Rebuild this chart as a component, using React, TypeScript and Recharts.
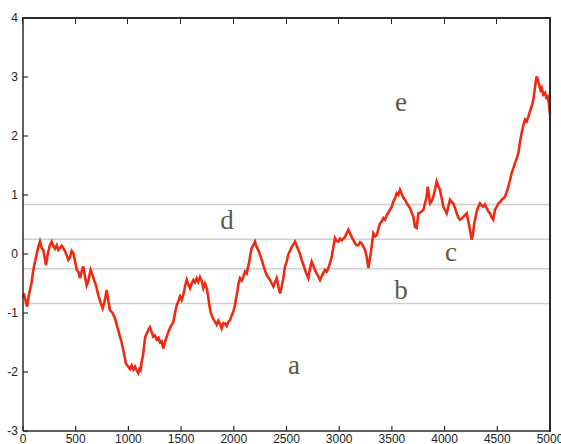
import {
  LineChart,
  Line,
  XAxis,
  YAxis,
  ReferenceLine,
  ReferenceDot,
} from "recharts";

const STEPS = [
  0, 10, 25, 40, 55, 66, 80, 98, 114, 130, 146, 161, 177, 193, 205, 218, 235, 255, 272, 290,
  304, 320, 335, 350, 367, 383, 398, 415, 430, 446, 462, 478, 494, 509, 525, 541, 556, 572, 588, 604,
  620, 642, 658, 674, 695, 715, 735, 756, 775, 794, 810, 825, 850, 873, 897, 920, 936, 952, 965, 977,
  1000, 1015, 1031, 1047, 1063, 1080, 1094, 1105, 1115, 1126, 1140, 1148, 1160, 1174, 1190, 1205, 1220, 1236, 1252, 1268,
  1285, 1300, 1315, 1331, 1345, 1360, 1379, 1395, 1411, 1427, 1442, 1458, 1474, 1490, 1505, 1521, 1537, 1553, 1569, 1585,
  1600, 1616, 1632, 1648, 1663, 1679, 1695, 1711, 1727, 1743, 1755, 1768, 1780, 1790, 1806, 1822, 1838, 1853, 1869, 1885,
  1900, 1917, 1932, 1948, 1964, 1980, 1995, 2011, 2022, 2033, 2045, 2059, 2075, 2090, 2106, 2122, 2135, 2147, 2158, 2169,
  2185, 2201, 2212, 2223, 2236, 2249, 2265, 2280, 2296, 2312, 2328, 2343, 2360, 2375, 2391, 2407, 2423, 2439, 2455, 2470,
  2486, 2502, 2518, 2533, 2550, 2565, 2581, 2597, 2612, 2628, 2644, 2660, 2676, 2692, 2707, 2723, 2739, 2755, 2770, 2786,
  2802, 2818, 2834, 2850, 2865, 2881, 2897, 2913, 2929, 2945, 2960, 2976, 2992, 3008, 3024, 3040, 3055, 3071, 3087, 3103,
  3118, 3134, 3150, 3166, 3182, 3198, 3213, 3230, 3245, 3261, 3277, 3290, 3302, 3313, 3324, 3340, 3356, 3371, 3387, 3403,
  3419, 3435, 3451, 3466, 3482, 3498, 3514, 3530, 3546, 3561, 3577, 3593, 3609, 3625, 3641, 3656, 3672, 3688, 3704, 3719,
  3735, 3751, 3767, 3782, 3799, 3814, 3828, 3840, 3851, 3862, 3878, 3893, 3910, 3925, 3940, 3956, 3972, 3988, 4004, 4020,
  4035, 4051, 4067, 4083, 4099, 4115, 4130, 4146, 4162, 4178, 4194, 4210, 4225, 4241, 4257, 4270, 4282, 4293, 4304, 4320,
  4336, 4351, 4367, 4383, 4399, 4415, 4431, 4446, 4462, 4478, 4494, 4510, 4526, 4542, 4557, 4573, 4589, 4605, 4620, 4636,
  4652, 4668, 4684, 4700, 4715, 4731, 4747, 4763, 4779, 4795, 4810, 4826, 4840, 4851, 4863, 4874, 4885, 4896, 4910, 4921,
  4937, 4953, 4965, 4978, 4990, 5000,
];

const VALUES = [
  -0.75, -0.67, -0.8, -0.89, -0.7, -0.61, -0.5, -0.27, -0.13, 0.0, 0.12, 0.21, 0.1, 0.07, -0.05, -0.19, 0.0, 0.15, 0.21, 0.13,
  0.09, 0.15, 0.07, 0.1, 0.14, 0.1, 0.05, -0.02, -0.1, -0.06, 0.05, 0.01, -0.12, -0.27, -0.3, -0.41, -0.3, -0.21, -0.38, -0.53,
  -0.45, -0.27, -0.35, -0.44, -0.55, -0.7, -0.82, -0.92, -0.8, -0.61, -0.8, -0.95, -1.0, -1.09, -1.25, -1.4, -1.5, -1.63, -1.75, -1.86,
  -1.91, -1.95, -1.89, -1.96, -1.91, -1.98, -2.02, -1.95, -1.97, -1.83, -1.7, -1.57, -1.4, -1.35, -1.28, -1.24, -1.32, -1.4, -1.38, -1.45,
  -1.42, -1.5, -1.48, -1.6, -1.5, -1.42, -1.32, -1.25, -1.2, -1.15, -1.0, -0.87, -0.8, -0.72, -0.78, -0.69, -0.55, -0.44, -0.52, -0.58,
  -0.5, -0.44, -0.48, -0.41, -0.47, -0.39, -0.45, -0.58, -0.5, -0.58, -0.7, -0.87, -0.98, -1.04, -1.1, -1.15, -1.2, -1.13, -1.18, -1.26,
  -1.17, -1.18, -1.22, -1.15, -1.12, -1.04, -0.98, -0.87, -0.75, -0.64, -0.5, -0.41, -0.45, -0.39, -0.3, -0.33, -0.22, -0.13, 0.0, 0.1,
  0.15, 0.21, 0.14, 0.1, 0.05, -0.02, -0.1, -0.19, -0.28, -0.36, -0.4, -0.44, -0.5, -0.55, -0.48, -0.41, -0.55, -0.67, -0.55, -0.41,
  -0.21, -0.13, 0.0, 0.05, 0.12, 0.16, 0.21, 0.14, 0.07, 0.0, -0.1, -0.18, -0.27, -0.35, -0.41, -0.25, -0.13, -0.2, -0.27, -0.33,
  -0.38, -0.44, -0.38, -0.32, -0.27, -0.3, -0.24, -0.15, -0.05, 0.12, 0.27, 0.22, 0.21, 0.26, 0.23, 0.26, 0.29, 0.35, 0.41, 0.35,
  0.29, 0.24, 0.18, 0.15, 0.15, 0.2, 0.18, 0.12, 0.07, -0.05, -0.24, -0.1, 0.04, 0.2, 0.35, 0.3, 0.32, 0.42, 0.52, 0.55,
  0.61, 0.58, 0.66, 0.7, 0.75, 0.8, 0.89, 0.95, 1.03, 1.0, 1.09, 1.02, 0.95, 0.92, 0.86, 0.82, 0.78, 0.7, 0.63, 0.46,
  0.44, 0.69, 0.7, 0.72, 0.75, 0.86, 0.95, 1.14, 1.0, 0.86, 0.9, 0.97, 1.1, 1.23, 1.15, 1.09, 0.95, 0.8, 0.75, 0.69,
  0.8, 0.92, 0.88, 0.86, 0.78, 0.69, 0.62, 0.58, 0.6, 0.63, 0.66, 0.69, 0.55, 0.41, 0.24, 0.35, 0.52, 0.62, 0.72, 0.8,
  0.86, 0.82, 0.8, 0.84, 0.78, 0.72, 0.69, 0.62, 0.58, 0.75, 0.8, 0.86, 0.88, 0.92, 0.94, 0.97, 1.05, 1.14, 1.25, 1.37,
  1.45, 1.54, 1.62, 1.71, 1.9, 2.05, 2.18, 2.28, 2.25, 2.33, 2.42, 2.5, 2.6, 2.73, 2.9, 3.01, 2.95, 2.87, 2.78, 2.82,
  2.7, 2.73, 2.65, 2.67, 2.55, 2.36,
];

const X_TICKS = [0, 500, 1000, 1500, 2000, 2500, 3000, 3500, 4000, 4500, 5000];
const Y_TICKS = [-3, -2, -1, 0, 1, 2, 3, 4];
const LEVELS = [0.84, 0.25, -0.25, -0.84];

const LETTERS = ["a", "b", "c", "d", "e"];
const LETTER_X = [2571, 3586, 4061, 1935, 3586];
const LETTER_Y = [-1.9, -0.63, 0.02, 0.56, 2.56];

const data = STEPS.map((step, i) => ({ step, value: VALUES[i] }));

const AXIS = "#2a2a2a";
const TICK_FONT = { fontFamily: "Liberation Sans, Arial, sans-serif", fontSize: 12, fill: "#222" };

// chart layout (plot box) shared by the chart margins and the frame
const W = 561;
const H = 444;
const LEFT = 23;
const TOP = 18;
const RIGHT_GAP = 11;
const BOTTOM_AXIS = 13;
const PLOT_W = W - LEFT - RIGHT_GAP;
const PLOT_H = H - TOP - BOTTOM_AXIS;

const BottomTick = (props: any) => {
  const { x, y, payload } = props;
  return (
    <g>
      <line x1={x} y1={y} x2={x} y2={y - 5} stroke={AXIS} strokeWidth={1.2} />
      <text x={x} y={y + 12} textAnchor="middle" {...TICK_FONT}>
        {payload.value}
      </text>
    </g>
  );
};

const LeftTick = (props: any) => {
  const { x, y, payload } = props;
  return (
    <g>
      <line x1={x} y1={y} x2={x + 5} y2={y} stroke={AXIS} strokeWidth={1.2} />
      <text x={x - 5} y={y + 4} textAnchor="end" {...TICK_FONT}>
        {payload.value}
      </text>
    </g>
  );
};

const RightTick = (props: any) => {
  const { x, y } = props;
  return <line x1={x} y1={y} x2={x - 5} y2={y} stroke={AXIS} strokeWidth={1.2} />;
};

// top and right edges of the box as css borders, top ticks as small divs
function Frame() {
  const xMax = X_TICKS[X_TICKS.length - 1];
  return (
    <div
      style={{
        position: "absolute",
        left: LEFT - 1,
        top: TOP - 1,
        width: PLOT_W,
        height: PLOT_H,
        borderTop: `2px solid ${AXIS}`,
        borderRight: `2px solid ${AXIS}`,
        boxSizing: "content-box",
        pointerEvents: "none",
        zIndex: 5,
      }}
    >
      {X_TICKS.map((t) => (
        <div
          key={t}
          style={{
            position: "absolute",
            left: (t / xMax) * PLOT_W,
            top: 0,
            width: 1,
            height: 5,
            background: AXIS,
          }}
        />
      ))}
    </div>
  );
}

export default function App() {
  return (
    <div style={{ position: "absolute", left: 0, top: 0, width: W, height: H, background: "#fff" }}>
      <LineChart
        width={W}
        height={H}
        data={data}
        margin={{ top: TOP, right: RIGHT_GAP, bottom: 0, left: 0 }}
      >
        <XAxis
          xAxisId="bottom"
          dataKey="step"
          type="number"
          domain={[0, 5000]}
          ticks={X_TICKS}
          height={BOTTOM_AXIS}
          tickSize={0}
          tickMargin={0}
          tickLine={false}
          stroke={AXIS}
          strokeWidth={1.5}
          tick={<BottomTick />}
          interval={0}
        />
        <YAxis
          yAxisId="left"
          type="number"
          domain={[-3, 4]}
          ticks={Y_TICKS}
          width={LEFT}
          tickSize={0}
          tickMargin={0}
          tickLine={false}
          stroke={AXIS}
          strokeWidth={1.5}
          tick={<LeftTick />}
          interval={0}
        />
        <YAxis
          yAxisId="right"
          orientation="right"
          type="number"
          domain={[-3, 4]}
          ticks={Y_TICKS}
          width={0}
          tickSize={0}
          tickMargin={0}
          tickLine={false}
          axisLine={false}
          tick={<RightTick />}
          interval={0}
        />
        {LEVELS.map((lv) => (
          <ReferenceLine
            key={lv}
            xAxisId="bottom"
            yAxisId="left"
            y={lv}
            stroke="#cfcfcf"
            strokeWidth={1.5}
          />
        ))}
        <Line
          xAxisId="bottom"
          yAxisId="right"
          dataKey="value"
          type="linear"
          stroke="none"
          dot={false}
          legendType="none"
          isAnimationActive={false}
        />
        <Line
          xAxisId="bottom"
          yAxisId="left"
          dataKey="value"
          type="linear"
          stroke="#f02a10"
          strokeWidth={2.6}
          strokeLinejoin="miter"
          dot={false}
          isAnimationActive={false}
        />
        {LETTERS.map((ch, i) => (
          <ReferenceDot
            key={ch}
            xAxisId="bottom"
            yAxisId="left"
            x={LETTER_X[i]}
            y={LETTER_Y[i]}
            r={0}
            fill="none"
            stroke="none"
            label={(p: any) => {
              const vb = p.viewBox || {};
              const cx = (vb.x ?? 0) + (vb.width ?? 0) / 2;
              const cy = (vb.y ?? 0) + (vb.height ?? 0) / 2;
              return (
                <text
                  x={cx}
                  y={cy + 8}
                  textAnchor="middle"
                  fontFamily="Liberation Serif, Times New Roman, serif"
                  fontSize={27}
                  fill="#5c5a3e"
                >
                  {ch}
                </text>
              );
            }}
          />
        ))}
      </LineChart>
      <Frame />
    </div>
  );
}
